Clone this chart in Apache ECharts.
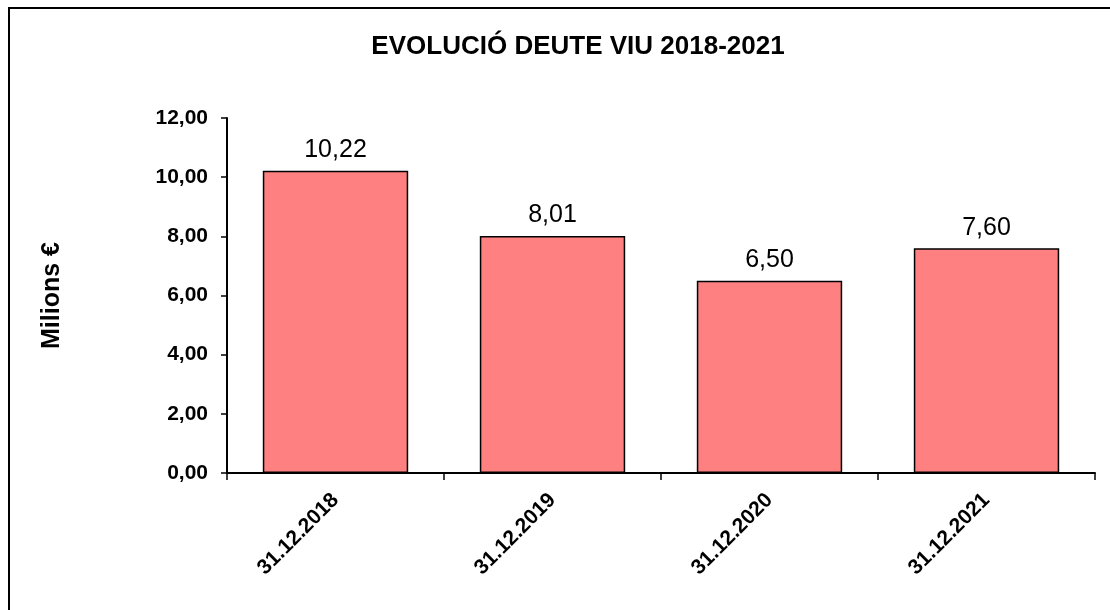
<!DOCTYPE html>
<html>
<head>
<meta charset="utf-8">
<title>Evolució deute viu</title>
<script src="https://cdn.jsdelivr.net/npm/echarts@6/dist/echarts.min.js"></script>
<style>
  html, body { margin: 0; padding: 0; background: #fff; }
  #chart { position: absolute; left: 0; top: 0; width: 1110px; height: 610px; }
  /* marc del gràfic (només es veuen la vora superior i l'esquerra) */
  #frame { position: absolute; left: 8px; top: 7px; width: 1200px; height: 700px; border: 2px solid #000; box-sizing: border-box; }
</style>
</head>
<body>
<div id="frame"></div>
<div id="chart"></div>
<script>
var dates = ["31.12.2018", "31.12.2019", "31.12.2020", "31.12.2021"];
var debt = [10.22, 8.01, 6.50, 7.60];
var yTicks = [0, 2, 4, 6, 8, 10, 12];

function comma(v) {
  return v.toFixed(2).replace(".", ",");
}

var myChart = echarts.init(document.getElementById("chart"));
myChart.setOption({
  backgroundColor: "transparent",
  animation: false,
  textStyle: { fontFamily: "Liberation Sans, Arial, sans-serif" },
  title: {
    text: "EVOLUCIÓ DEUTE VIU 2018-2021",
    left: 573,
    textAlign: "center",
    top: 29,
    textStyle: { fontSize: 26, fontWeight: "bold", color: "#000" }
  },
  grid: { left: 227, right: 15, top: 118, bottom: 137 },
  xAxis: {
    type: "category",
    data: dates,
    axisLine: { lineStyle: { color: "#000", width: 2 } },
    axisTick: { show: true, length: 7, lineStyle: { color: "#000", width: 1.5 } },
    axisLabel: {
      rotate: 45,
      margin: 24,
      color: "#000",
      fontSize: 21,
      fontWeight: "bold"
    }
  },
  yAxis: {
    type: "value",
    min: yTicks[0],
    max: yTicks[yTicks.length - 1],
    interval: 2,
    name: "Milions €",
    nameLocation: "middle",
    nameGap: 162,
    nameTextStyle: { fontSize: 25, fontWeight: "bold", color: "#000" },
    axisLine: { show: true, lineStyle: { color: "#000", width: 2 } },
    axisTick: { show: true, length: 6, lineStyle: { color: "#000", width: 1.5 } },
    splitLine: { show: false },
    axisLabel: {
      margin: 19,
      color: "#000",
      fontSize: 21,
      fontWeight: "bold",
      formatter: function (v) { return comma(v); }
    }
  },
  series: [{
    type: "bar",
    data: debt,
    barCategoryGap: "33%",
    itemStyle: { color: "#ff8080", borderColor: "#000", borderWidth: 1.5 },
    label: {
      show: true,
      position: "top",
      distance: 8,
      color: "#000",
      fontSize: 25,
      formatter: function (p) { return comma(p.value); }
    }
  }]
});
</script>
</body>
</html>
